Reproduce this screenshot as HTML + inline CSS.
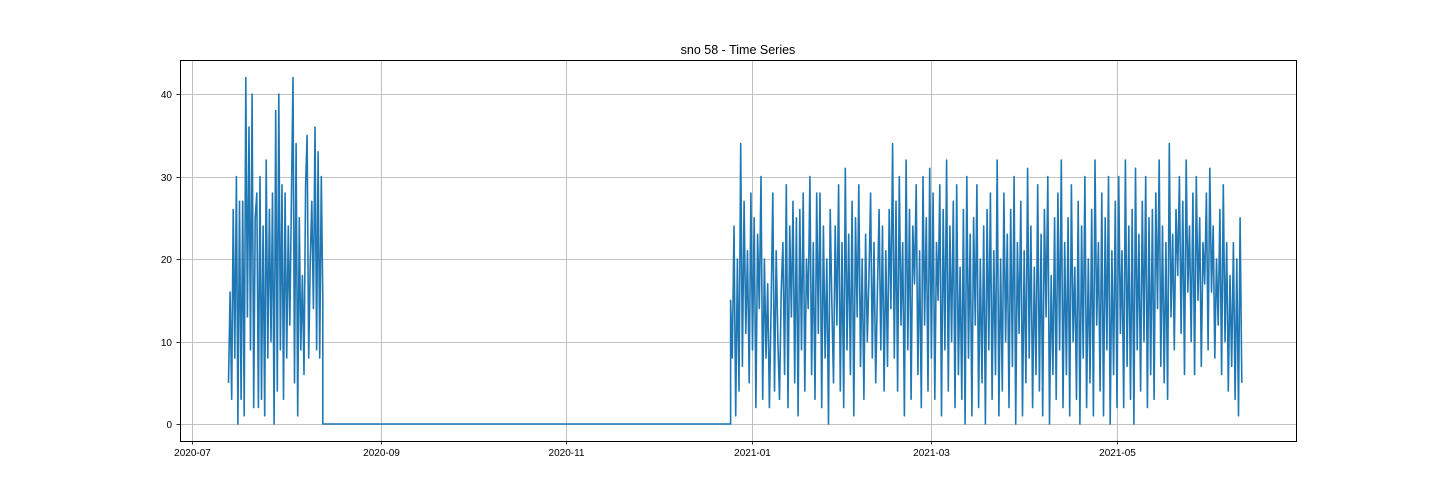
<!DOCTYPE html>
<html><head><meta charset="utf-8"><style>
html,body{margin:0;padding:0;background:#fff;}
svg{display:block;font-family:"Liberation Sans","DejaVu Sans",sans-serif;}
</style></head><body>
<svg id="chart" width="1440" height="504">
<text x="738" y="54" text-anchor="middle" font-size="12.5">sno 58 - Time Series</text>
<g id="grid"></g><g id="series"></g><g id="axes"></g>
<rect x="180.5" y="60.5" width="1116" height="381" fill="none" stroke="#000" stroke-width="1"/>
</svg>
<script>
const seg1Start = "2020-07-13", seg1End = "2020-08-13";
const seg1Values = [5,16,3,26,8,30,0,27,3,27,1,42,13,36,9,40,2,25,28,2,30,3,24,1,32,8,26,10,28,0,38,4,40,9,29,3,28,8,24,12,27,42,5,34,1,25,9,18,6,29,35,8,20,27,14,36,9,33,8,30,15];
const seg2Start = "2020-12-25", seg2End = "2021-06-11";
const seg2Values = [15,8,24,1,20,4,34,7,27,11,21,5,28,9,25,2,23,14,30,3,
20,8,17,2,14,28,4,21,10,3,16,22,6,29,2,24,13,27,5,25,
1,26,9,28,4,20,14,30,6,22,3,28,11,28,2,24,8,20,0,26,
15,5,24,12,29,4,22,2,31,9,23,6,27,1,25,13,29,7,20,3,
23,10,18,28,8,22,5,16,26,9,24,4,21,7,26,14,34,8,27,4,
30,12,22,1,32,9,26,3,24,17,29,6,21,2,30,12,25,4,31,8,
28,3,22,15,29,1,26,9,32,4,24,10,27,2,29,6,19,3,26,0,
30,8,23,1,25,12,29,2,20,5,24,0,26,9,28,3,21,6,32,1,
20,4,28,10,23,2,26,7,30,0,22,11,27,1,21,5,31,8,24,2,
19,6,29,4,23,1,26,13,30,0,18,6,25,3,28,9,32,2,22,6,
25,1,29,10,19,3,27,0,24,8,30,2,20,5,26,1,32,12,22,4,
28,1,25,9,30,0,21,6,27,2,30,11,21,2,32,7,24,3,26,0,
31,9,23,4,27,10,30,2,25,6,26,3,28,14,32,7,24,5,22,3,
34,13,23,9,26,18,30,11,27,6,32,16,24,10,28,6,30,15,25,7,
22,17,28,9,31,16,24,8,20,12,26,6,29,10,22,4,18,7,22,3,
20,1,25,5];
const xTickDates = ["2020-07-01","2020-09-01","2020-11-01","2021-01-01","2021-03-01","2021-05-01"];
const yTicks = [0,10,20,30,40];

const NS="http://www.w3.org/2000/svg";
const day=86400000;
const t0=Date.parse("2020-07-01");
function xs(d){return 192+(Date.parse(d)-t0)/day*3.043;}
function xt(ms){return 192+(ms-t0)/day*3.043;}
function ys(v){return 424-v*8.25;}
function mk(tag,attrs,parent){const e=document.createElementNS(NS,tag);for(const k in attrs)e.setAttribute(k,attrs[k]);parent.appendChild(e);return e;}
const grid=document.getElementById('grid'),axes=document.getElementById('axes'),series=document.getElementById('series');
xTickDates.forEach(d=>{
  const x=Math.round(xs(d))+0.5;
  const g=mk('line',{x1:x,x2:x,y1:60,y2:441,stroke:'#b0b0b0','stroke-width':0.8},grid);
  
  
  const t=mk('line',{x1:x,x2:x,y1:441,y2:444.5,stroke:'#000','stroke-width':0.8},axes);
  
  
  const l=mk('text',{x:x,y:456,'text-anchor':'middle','font-size':10},axes);
  l.textContent=d.slice(0,7);
  
  
});
yTicks.forEach(v=>{
  const y=Math.round(ys(v))+0.5;
  const g=mk('line',{x1:180,x2:1296,y1:y,y2:y,stroke:'#b0b0b0','stroke-width':0.8},grid);
  
  
  const t=mk('line',{x1:176.5,x2:180,y1:y,y2:y,stroke:'#000','stroke-width':0.8},axes);
  
  
  const l=mk('text',{x:172,y:y+3.5,'text-anchor':'end','font-size':10},axes);
  l.textContent=v;
  
  
});
function segPts(start,end,vals){
  const a=Date.parse(start),b=Date.parse(end),n=vals.length;
  return vals.map((v,i)=>[xt(a+(b-a)*i/(n-1)),ys(v)]);
}
let pts=segPts(seg1Start,seg1End,seg1Values);
const p2=segPts(seg2Start,seg2End,seg2Values);
pts.push([pts[pts.length-1][0],ys(0)]);
pts.push([p2[0][0],ys(0)]);
pts=pts.concat(p2);
const path=mk('path',{d:'M'+pts.map(p=>p[0].toFixed(1)+','+p[1].toFixed(1)).join('L'),fill:'none',stroke:'#1f77b4','stroke-width':1.6,'stroke-linejoin':'round'},series);


</script>
</body></html>
